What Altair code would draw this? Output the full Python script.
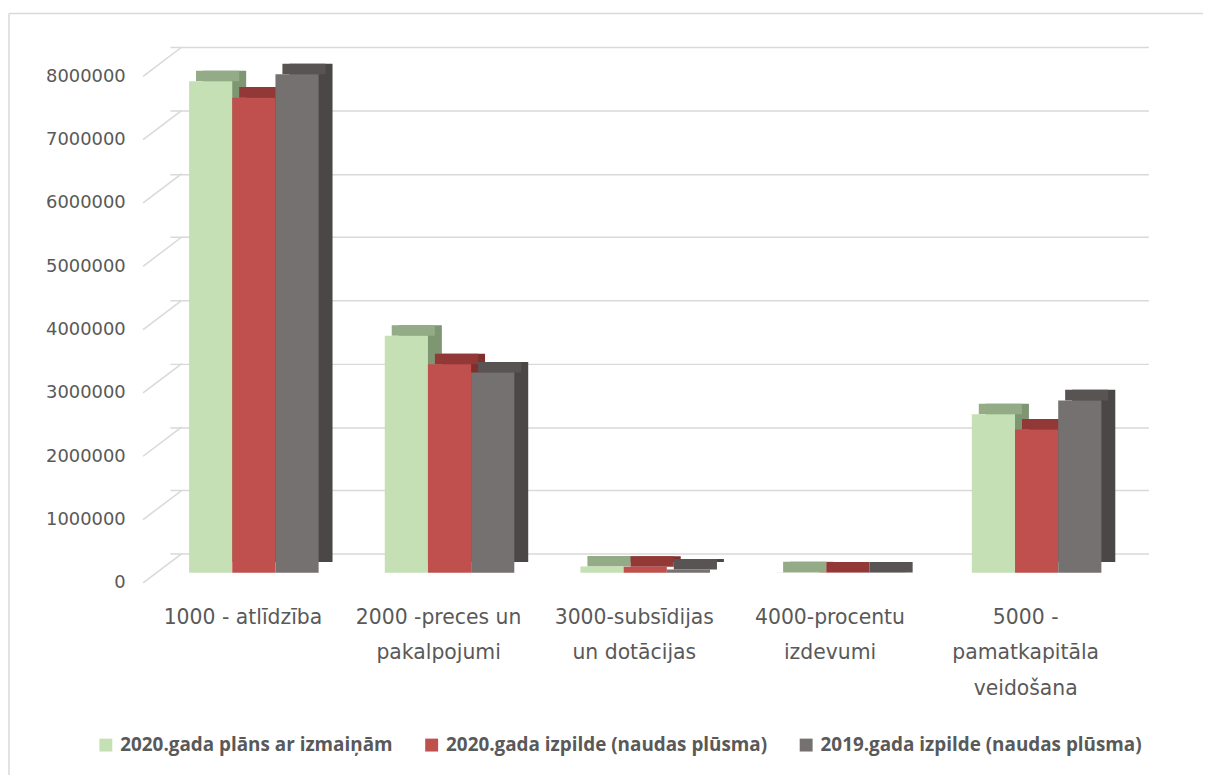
import altair as alt
import pandas as pd

categories = [
    "1000 - atlīdzība",
    "2000 -preces un|pakalpojumi",
    "3000-subsīdijas|un dotācijas",
    "4000-procentu|izdevumi",
    "5000 -|pamatkapitāla|veidošana",
]
series = [
    "2020.gada plāns ar izmaiņām",
    "2020.gada izpilde (naudas plūsma)",
    "2019.gada izpilde (naudas plūsma)",
]
plan_2020 = [7760000, 3740000, 96000, 3000, 2500000]
izpilde_2020 = [7500000, 3290000, 93000, 2000, 2260000]
izpilde_2019 = [7870000, 3160000, 50000, 1000, 2720000]
y_ticks = [0, 1000000, 2000000, 3000000, 4000000, 5000000, 6000000, 7000000, 8000000]

front_colors = ["#C5E0B4", "#C0504D", "#767171"]
top_colors = ["#93AB86", "#923836", "#595454"]
side_colors = ["#7E9671", "#7F2F2D", "#4B4747"]

rows = []
for ci, c in enumerate(categories):
    for s, vals in zip(series, [plan_2020, izpilde_2020, izpilde_2019]):
        rows.append({"cat": c, "series": s, "value": vals[ci]})
df = pd.DataFrame(rows)
ticks_df = pd.DataFrame({"v": y_ticks})

W, H = 985, 510
GRID = "#D9D9D9"
TXT = "#595959"
yscale = alt.Scale(domain=[0, 8000000], nice=False, zero=True)
yaxis = alt.Axis(
    values=y_ticks, format="d", grid=True, gridColor=GRID, gridWidth=1.5,
    domain=False, ticks=False, tickSize=0, labelPadding=57, labelOffset=29.5,
    labelFont="DejaVu Sans", labelFontSize=18, labelColor=TXT, title=None)


def xscale(shift):
    return alt.Scale(domain=categories, range=[shift, W + shift],
                     paddingInner=0.338, paddingOuter=0.169)


def offs():
    return alt.XOffset("series:N", scale=alt.Scale(domain=series), sort=series)


# back-wall gridlines + diagonals on the left wall
diag = alt.Chart(ticks_df).mark_rule(
    color=GRID, strokeWidth=1.5, xOffset=-39, yOffset=29.5
).encode(
    x=alt.value(0), x2=alt.value(0),
    y=alt.Y("v:Q", scale=yscale, axis=yaxis),
    y2="v:Q",
)

side = alt.Chart(df).mark_bar(yOffset=8.5, y2Offset=8.5).encode(
    x=alt.X("cat:N", scale=xscale(-12), axis=None, sort=categories),
    xOffset=offs(),
    y=alt.Y("value:Q", scale=yscale, axis=yaxis),
    color=alt.Color("series:N", scale=alt.Scale(domain=series, range=side_colors), legend=None),
)

top = alt.Chart(df).mark_bar(yOffset=8.5, y2Offset=19.2).encode(
    x=alt.X("cat:N", scale=xscale(-19), axis=None, sort=categories),
    xOffset=offs(),
    y=alt.Y("value:Q", scale=yscale, axis=yaxis),
    y2="value:Q",
    color=alt.Color("series:N", scale=alt.Scale(domain=series, range=top_colors), legend=None),
)

front = alt.Chart(df).mark_bar(yOffset=19.2, y2Offset=19.2).encode(
    x=alt.X("cat:N", scale=xscale(-26), sort=categories, axis=alt.Axis(
        labelExpr="split(datum.label, '|')", labelFont="DejaVu Sans", labelFontSize=20.5,
        labelColor=TXT, labelLineHeight=36, labelPadding=54, labelOffset=-11,
        labelAngle=0, labelLimit=0, domain=False, ticks=False, tickSize=0, title=None)),
    xOffset=offs(),
    y=alt.Y("value:Q", scale=yscale, axis=yaxis),
    color=alt.Color("series:N", scale=alt.Scale(domain=series, range=front_colors),
                    legend=alt.Legend(
                        orient="none", legendX=-86, legendY=693, direction="horizontal",
                        columns=3, title=None, symbolType="square", symbolSize=169,
                        symbolStrokeWidth=0, labelFont="Open Sans", labelFontWeight="bold",
                        labelFontSize=19, labelColor=TXT, columnPadding=29, labelOffset=5,
                        labelLimit=0, padding=0)),
)

border_left = alt.Chart(ticks_df.head(1)).mark_rule(color=GRID, strokeWidth=1.5).encode(
    x=alt.value(-174), y=alt.value(-33.7), y2=alt.value(H + 240))
border_top = alt.Chart(ticks_df.head(1)).mark_rule(color=GRID, strokeWidth=1.5).encode(
    x=alt.value(-174), x2=alt.value(W + 60), y=alt.value(-33.7))

chart = alt.layer(border_left, border_top, diag, side, top, front).resolve_scale(
    x="independent", xOffset="independent", color="independent"
).properties(
    width=W, height=H,
    autosize=alt.AutoSizeParams(type="none"),
    padding={"left": 175, "top": 36.7, "right": 43, "bottom": 220},
    background="white",
).configure_view(stroke=None)

chart.save("out.html", embed_options={"renderer": "svg", "actions": False})
